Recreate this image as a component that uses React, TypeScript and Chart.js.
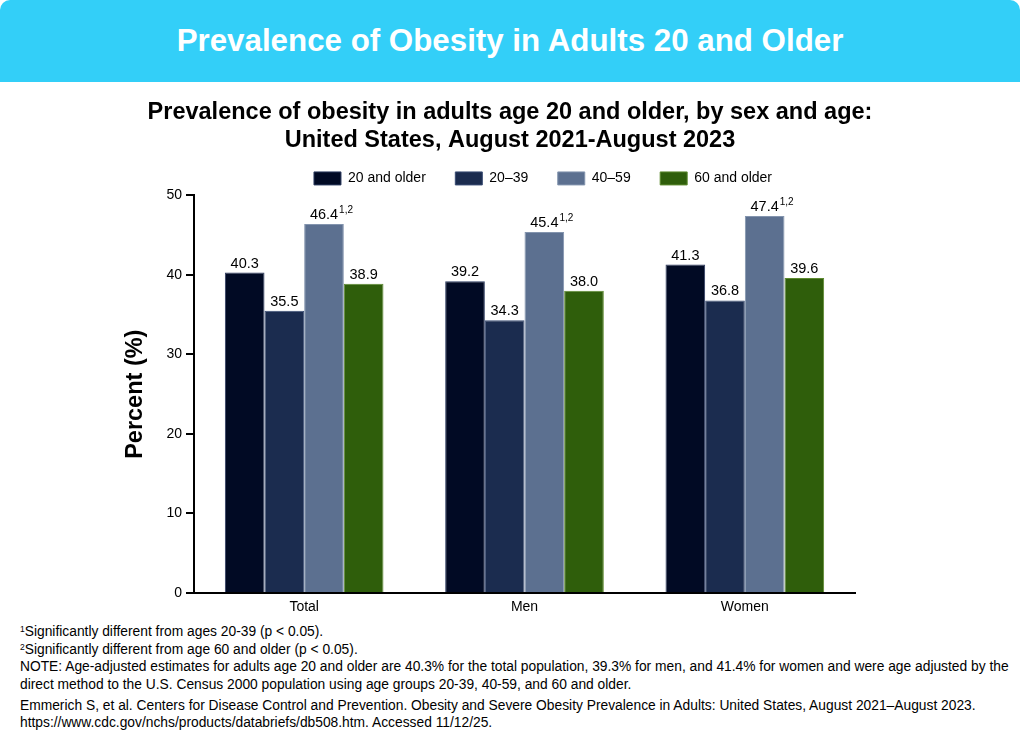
import React, { useEffect, useRef } from "react";
import { Chart, registerables } from "chart.js";

Chart.register(...registerables);

const FONT = "'Liberation Sans', Arial, Helvetica, sans-serif";

const categories = ["Total", "Men", "Women"];
const seriesLabels = ["20 and older", "20–39", "40–59", "60 and older"];
const age20Plus = [40.3, 39.2, 41.3];
const age20to39 = [35.5, 34.3, 36.8];
const age40to59 = [46.4, 45.4, 47.4];
const age60Plus = [38.9, 38.0, 39.6];
const seriesSuperscripts = ["", "", "1,2", ""];
const seriesColors = ["#010a24", "#1b2c4f", "#5c7090", "#2f5e0b"];
const seriesBorders = ["#2c3b60", "#3a4d74", "#8394ae", "#5d8a2f"];
const yMin = 0;
const yMax = 50;
const yStep = 10;

const chartTitle = [
  "Prevalence of obesity in adults age 20 and older, by sex and age:",
  "United States, August 2021-August 2023",
];

const valueLabelPlugin = {
  id: "valueLabels",
  afterDatasetsDraw(chart: any) {
    const ctx = chart.ctx;
    ctx.save();
    chart.data.datasets.forEach((ds: any, di: number) => {
      const meta = chart.getDatasetMeta(di);
      meta.data.forEach((bar: any, i: number) => {
        const v = ds.data[i] as number;
        const txt = v.toFixed(1);
        ctx.font = `14.5px ${FONT}`;
        ctx.fillStyle = "#000";
        ctx.textAlign = "center";
        ctx.textBaseline = "alphabetic";
        const baseY = bar.y - 5;
        ctx.fillText(txt, bar.x, baseY);
        const sup = seriesSuperscripts[di];
        if (sup) {
          const w = ctx.measureText(txt).width;
          ctx.font = `10px ${FONT}`;
          ctx.textAlign = "left";
          ctx.fillText(sup, bar.x + w / 2 + 1, baseY - 6);
        }
      });
    });
    ctx.restore();
  },
};

const legendShiftPlugin = {
  id: "legendShift",
  afterLayout(chart: any) {
    const lg = chart.legend;
    if (lg) {
      lg.left += 33;
      lg.right += 33;
    }
  },
};

export default function App() {
  const canvasRef = useRef<HTMLCanvasElement | null>(null);

  useEffect(() => {
    if (!canvasRef.current) return;
    const seriesValues = [age20Plus, age20to39, age40to59, age60Plus];
    const chart = new Chart(canvasRef.current, {
      type: "bar",
      data: {
        labels: categories,
        datasets: seriesValues.map((vals, i) => ({
          label: seriesLabels[i],
          data: vals,
          backgroundColor: seriesColors[i],
          borderColor: seriesBorders[i],
          borderWidth: 1,
          categoryPercentage: 0.72,
          barPercentage: 1.0,
        })),
      },
      options: {
        responsive: true,
        maintainAspectRatio: false,
        animation: false,
        layout: { padding: 0 },
        plugins: {
          title: {
            display: true,
            text: chartTitle,
            color: "#000",
            font: { size: 23.5, weight: "bold", family: FONT, lineHeight: 1.19 },
            padding: { top: 17, bottom: -13 },
          },
          legend: {
            display: true,
            position: "top",
            labels: {
              boxWidth: 27,
              boxHeight: 13,
              padding: 29.5,
              color: "#000",
              font: { size: 14, family: FONT },
            },
          },
          tooltip: { enabled: false },
        },
        scales: {
          x: {
            grid: { display: false, drawTicks: false },
            border: { display: true, color: "#000", width: 2 },
            ticks: { color: "#000", font: { size: 14, family: FONT }, padding: 6 },
            afterFit(s: any) {
              s.height = 27;
            },
          },
          y: {
            min: yMin,
            max: yMax,
            ticks: {
              stepSize: yStep,
              color: "#000",
              font: { size: 14, family: FONT },
              padding: 4,
            },
            grid: { drawOnChartArea: false, tickLength: 8, color: "#000", lineWidth: 2 },
            border: { display: true, color: "#000", width: 2 },
            title: {
              display: true,
              text: "Percent (%)",
              color: "#000",
              font: { size: 23.5, weight: "bold", family: FONT, lineHeight: 1.2 },
              padding: { top: 121, bottom: 0 },
            },
            afterFit(s: any) {
              s.width = 194;
            },
          },
          y2: {
            position: "right",
            display: true,
            grid: { display: false },
            ticks: { display: false },
            border: { display: false },
            afterFit(s: any) {
              s.width = 165;
            },
          },
        },
      } as any,
      plugins: [valueLabelPlugin, legendShiftPlugin],
    });
    return () => chart.destroy();
  }, []);

  const noteStyle: React.CSSProperties = { whiteSpace: "nowrap", height: 17.7, lineHeight: "17.7px" };
  const supStyle: React.CSSProperties = { fontSize: 8.5, verticalAlign: "top", lineHeight: "12px" };

  return (
    <div
      style={{
        position: "absolute",
        left: 0,
        top: 0,
        width: 1020,
        height: 748,
        background: "#fff",
        fontFamily: FONT,
        overflow: "hidden",
      }}
    >
      <div
        style={{
          position: "absolute",
          left: 0,
          top: 0,
          width: 1020,
          height: 82,
          background: "#33cff8",
          borderRadius: "10px 10px 0 0",
          color: "#fff",
          fontWeight: "bold",
          fontSize: 31.3,
          display: "flex",
          alignItems: "center",
          justifyContent: "center",
        }}
      >
        Prevalence of Obesity in Adults 20 and Older
      </div>
      <div style={{ position: "absolute", left: 0, top: 82, width: 1020, height: 538 }}>
        <canvas ref={canvasRef} />
      </div>
      <div
        style={{
          position: "absolute",
          left: 20,
          top: 623,
          fontSize: 13.8,
          color: "#000",
        }}
      >
        <div style={noteStyle}>
          <span style={supStyle}>1</span>Significantly different from ages 20-39 (p &lt; 0.05).
        </div>
        <div style={noteStyle}>
          <span style={supStyle}>2</span>Significantly different from age 60 and older (p &lt; 0.05).
        </div>
        <div style={noteStyle}>
          NOTE: Age-adjusted estimates for adults age 20 and older are 40.3% for the total population, 39.3% for men, and 41.4% for women and were age adjusted by the
        </div>
        <div style={noteStyle}>
          direct method to the U.S. Census 2000 population using age groups 20-39, 40-59, and 60 and older.
        </div>
        <div style={{ ...noteStyle, marginTop: 3 }}>
          Emmerich S, et al. Centers for Disease Control and Prevention. Obesity and Severe Obesity Prevalence in Adults: United States, August 2021–August 2023.
        </div>
        <div style={noteStyle}>https://www.cdc.gov/nchs/products/databriefs/db508.htm. Accessed 11/12/25.</div>
      </div>
    </div>
  );
}
